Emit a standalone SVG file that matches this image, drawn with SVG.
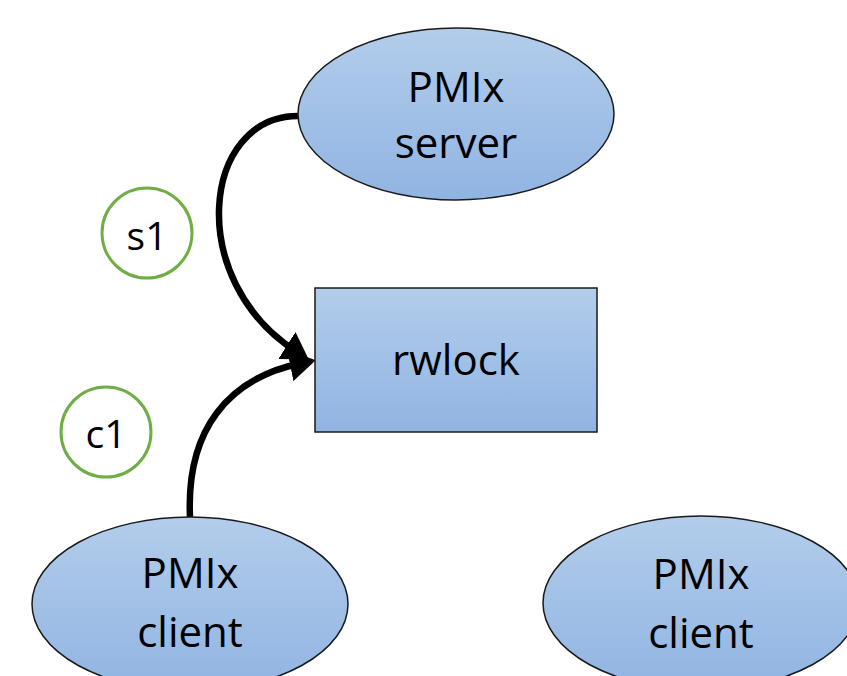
<svg xmlns="http://www.w3.org/2000/svg" width="847" height="676" viewBox="0 0 847 676">
  <style>
    .shape { fill: url(#blueFill); stroke: #1a1a1a; stroke-width: 1.5; }
    .label { font-family: "Open Sans", "Liberation Sans", sans-serif; font-size: 42px; fill: #000; text-anchor: middle; }
    .tag { fill: #fff; stroke: #70AD47; stroke-width: 3; }
    .tagtext { font-family: "Open Sans", "Liberation Sans", sans-serif; font-size: 39px; fill: #000; text-anchor: middle; }
    .conn { fill: none; stroke: #000; stroke-width: 6.5; marker-end: url(#arrow); }
  </style>
  <defs>
    <linearGradient id="blueFill" x1="0" y1="0" x2="0" y2="1">
      <stop offset="0" stop-color="#B3CDEB"/>
      <stop offset="1" stop-color="#90B4E2"/>
    </linearGradient>
    <marker id="arrow" viewBox="0 0 26 32" refX="12" refY="16" markerWidth="26" markerHeight="32" markerUnits="userSpaceOnUse" orient="auto">
      <path d="M0,0 L26,16 L0,32 Z" fill="#000"/>
    </marker>
  </defs>

  <rect width="847" height="676" fill="#fff"/>

  <g id="connectors">
    <path class="conn" d="M298,116 C202,116 184,280 297,352"/>
    <path class="conn" d="M190,517 C186,430 228,378 302,363"/>
  </g>

  <g id="server">
    <ellipse class="shape" cx="456" cy="114" rx="158" ry="86"/>
    <text class="label" x="456" y="102">PMIx</text>
    <text class="label" x="456" y="158">server</text>
  </g>

  <g id="rwlock">
    <rect class="shape" x="315" y="288" width="282" height="144"/>
    <text class="label" x="456" y="375">rwlock</text>
  </g>

  <g id="client1">
    <ellipse class="shape" cx="190" cy="604" rx="158" ry="87"/>
    <text class="label" x="190" y="588">PMIx</text>
    <text class="label" x="190" y="647">client</text>
  </g>

  <g id="client2">
    <ellipse class="shape" cx="701" cy="603" rx="158" ry="87"/>
    <text class="label" x="701" y="589">PMIx</text>
    <text class="label" x="701" y="648">client</text>
  </g>

  <g id="s1">
    <circle class="tag" cx="147" cy="233" r="45"/>
    <text class="tagtext" x="147" y="250">s1</text>
  </g>

  <g id="c1">
    <circle class="tag" cx="106" cy="432" r="45"/>
    <text class="tagtext" x="106" y="448">c1</text>
  </g>
</svg>
